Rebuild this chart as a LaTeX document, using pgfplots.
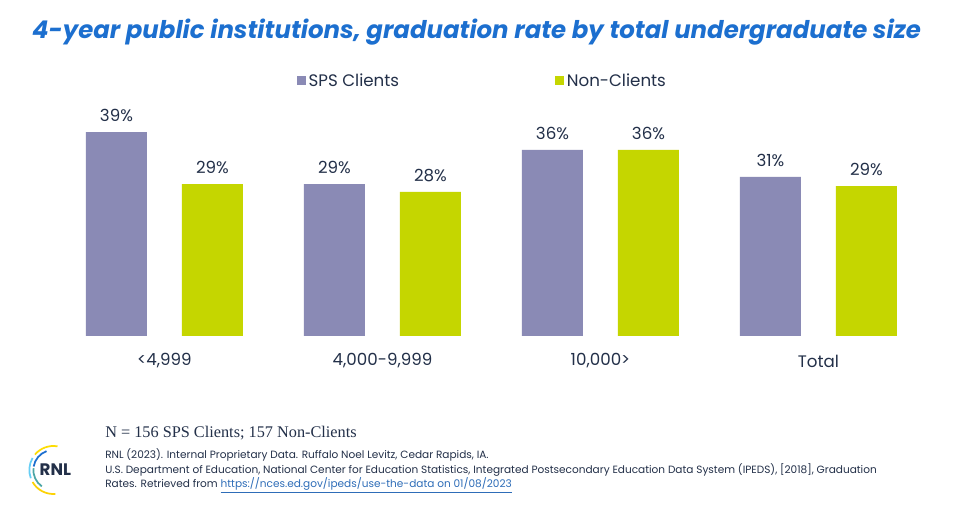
\documentclass[border=0pt]{standalone}
\usepackage{fontspec}
\setmainfont{Poppins}
\newfontfamily\seriffont{Liberation Serif}
\usepackage{pgfplots}
\pgfplotsset{compat=1.18}
\definecolor{spsc}{HTML}{8A8AB5}
\definecolor{ncc}{HTML}{C5D600}
\definecolor{titlec}{HTML}{1C6FCF}
\definecolor{txtc}{HTML}{233049}
\definecolor{linkc}{HTML}{2E6DB8}
\begin{document}
\begin{tikzpicture}
\path[use as bounding box, fill=white] (0,0) rectangle (720pt,387pt);
\begin{axis}[
  at={(41.6pt,135pt)}, anchor=south west,
  scale only axis, width=654pt, height=175.5pt,
  xmin=-0.5, xmax=3.5, ymin=0, ymax=45,
  axis line style={draw=none}, ytick=\empty,
  xtick=data, xticklabels={{<4,999},{4,000-9,999},{10,000>},{Total}},
  major tick length=0pt,
  xticklabel style={font=\fontsize{12.5}{14}\selectfont, text=txtc, anchor=center, yshift=-18.75pt},
  ybar, bar width=45.75pt,
  clip=false,
  nodes near coords={\pgfmathprintnumber[fixed,precision=0,assume math mode=true]{\pgfplotspointmeta}\%},
  nodes near coords style={font=\fontsize{12.5}{14}\selectfont, text=txtc, anchor=center, yshift=12.5pt},
  legend style={draw=none, fill=none, at={(0.49,1.09)}, anchor=center, legend columns=2,
    font=\fontsize{12.5}{14}\selectfont, text=txtc,
    /tikz/every even column/.append style={column sep=115pt}},
  legend image code/.code={\fill[#1] (0pt,-3.4pt) rectangle (6.8pt,3.4pt);},
]
\addplot[fill=spsc, draw=none, bar shift=-36pt] coordinates {(0,39.2) (1,29.2) (2,35.8) (3,30.6)};
\addplot[fill=ncc, draw=none, bar shift=36pt] coordinates {(0,29.2) (1,27.7) (2,35.8) (3,28.8)};
\legend{SPS Clients, Non-Clients}
\end{axis}
\node[text=titlec, font=\fontsize{18.3}{21}\selectfont\bfseries\itshape] at (357.4pt,363pt) {4-year public institutions, graduation rate by total undergraduate size};
\node[anchor=west, text=txtc, font=\seriffont\fontsize{12.2}{14}\selectfont, inner sep=0] at (78.75pt,62.25pt) {N = 156 SPS Clients; 157 Non-Clients};
\node[anchor=west, text=txtc, font=\fontsize{7.9}{9}\selectfont, inner sep=0] at (78.75pt,45.75pt) {RNL (2023). Internal Proprietary Data. Ruffalo Noel Levitz, Cedar Rapids, IA.};
\node[anchor=west, text=txtc, font=\fontsize{7.9}{9}\selectfont, inner sep=0] at (78.75pt,34.5pt) {U.S. Department of Education, National Center for Education Statistics, Integrated Postsecondary Education Data System (IPEDS), [2018], Graduation};
\node[anchor=west, text=txtc, font=\fontsize{7.9}{9}\selectfont, inner sep=0] at (78.75pt,23.25pt) {Rates. Retrieved from \textcolor{linkc}{\underline{https://nces.ed.gov/ipeds/use-the-data on 01/08/2023}}};
% logo
\node[text=txtc, font=\fontsize{12.5}{13}\selectfont\bfseries, inner sep=0] at (41.5pt,34.5pt) {RNL};
\draw[line width=1.3pt, color=titlec] (40pt,34.5pt) ++(110:15pt) arc (110:170:15pt);
\draw[line width=1.3pt, color=teal!70] (40pt,34.5pt) ++(175:15pt) arc (175:235:15pt);
\draw[line width=1.3pt, color=yellow!80!orange] (40pt,34.5pt) ++(80:18pt) arc (80:140:18pt);
\draw[line width=1.3pt, color=cyan!60] (40pt,34.5pt) ++(150:18pt) arc (150:200:18pt);
\draw[line width=1.3pt, color=yellow!70!orange] (40pt,34.5pt) ++(210:18pt) arc (210:275:18pt);
\end{tikzpicture}
\end{document}
